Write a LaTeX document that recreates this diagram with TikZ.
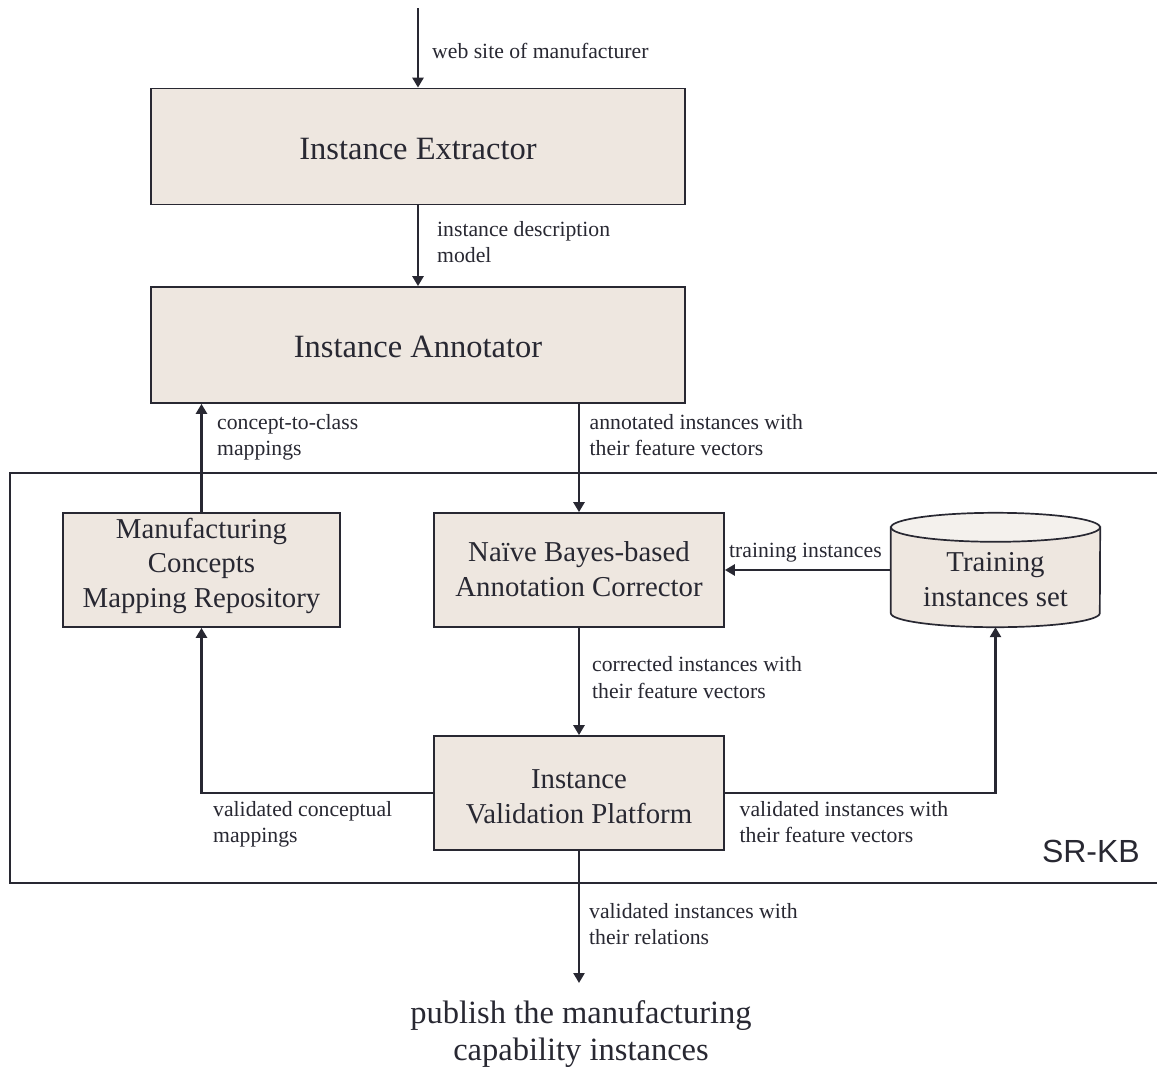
\documentclass[tikz,border=0pt]{standalone}
\usepackage{fontspec}
\setmainfont{Liberation Serif}
\newfontfamily\kbfont{Liberation Sans}
\usetikzlibrary{arrows.meta,backgrounds}
\definecolor{inkc}{RGB}{40,40,50}
\definecolor{boxfill}{RGB}{238,231,224}
\definecolor{capfill}{RGB}{244,241,237}
\newcommand\fsz[2]{\fontsize{#1}{#2}\selectfont}
% struts with extra room above (#1) or below (#1) to set the text's vertical place in a box
\newcommand\topstrut[1]{\rule[-.3\baselineskip]{0pt}{\dimexpr\baselineskip+#1\relax}}
\newcommand\botstrut[1]{\rule[\dimexpr-.3\baselineskip-#1\relax]{0pt}{\dimexpr\baselineskip+#1\relax}}

\begin{document}
\begin{tikzpicture}[x=1pt,y=-1pt,
  unit/.style={draw=inkc, line width=1.7pt, fill=boxfill, text=inkc, inner sep=0pt, align=center},
  bigunit/.style={unit, minimum width=534pt, minimum height=116pt, font=\fsz{32.5pt}{39pt}},
  unitbox/.style={unit, minimum width=290pt, minimum height=114pt, font=\fsz{28.8pt}{34.5pt}},
  flow/.style={draw=inkc, line width=2.8pt, -{Triangle[length=10pt,width=11pt]}},
  lbl/.style={anchor=north west, inner sep=0pt, align=left, text=inkc, font=\fsz{21.7pt}{26.5pt}},
]
\useasboundingbox (0,0) rectangle (1157,1068);
\clip (0,0) rectangle (1157,1068);

% knowledge base frame (open to the right)
\draw[inkc, line width=2.4pt] (1175,473) -- (10,473) -- (10,883) -- (1175,883);
\node[anchor=base east, inner sep=0pt, text=inkc, font=\kbfont\fsz{32pt}{38pt}] (kb) at (1140,862) {SR-KB};

% processing units
\node[bigunit] (ie) at (418,146.5) {\topstrut{10pt}Instance Extractor};
\node[bigunit] (ia) at (418,345) {\topstrut{10pt}Instance Annotator};
\node[unitbox, minimum width=277pt] (mc) at (201.5,570) {\strut Manufacturing\\\strut Concepts\\\botstrut{8pt}Mapping Repository};
\node[unitbox] (nb) at (579,570) {\topstrut{4pt}Naïve Bayes-based\\\strut Annotation Corrector};
\node[unitbox] (ivp) at (579,793) {\topstrut{12pt}Instance\\\strut Validation Platform};

% training data store
\node[inner sep=0pt, minimum width=209pt, minimum height=94pt, align=center, text=inkc,
      font=\fsz{28.8pt}{34.5pt}] (tis) at (995.5,580) {\topstrut{4pt}Training\\\strut instances set};
\begin{pgfonlayer}{background}
  \fill[white] (0,0) rectangle (1157,1068);
  \draw[draw=inkc, line width=1.7pt, fill=boxfill]
    ([yshift=5.5pt]tis.north west) -- ([yshift=14pt]tis.south west)
    arc[start angle=180, end angle=360, x radius=104.5pt, y radius=14pt]
    -- ([yshift=5.5pt]tis.north east) -- cycle;
  \draw[draw=inkc, line width=1.7pt, fill=capfill]
    ([yshift=5.5pt]tis.north) ellipse[x radius=104.5pt, y radius=14.5pt];
\end{pgfonlayer}

% output
\node[anchor=north, inner sep=0pt, align=center, text=inkc, font=\fsz{32.5pt}{37pt}] (pub)
  at (581,997) {\strut publish the manufacturing\\\strut capability instances};

% connectors
\coordinate (src) at (418,8);
\draw[flow] (src) -- (ie.north);
\draw[flow] (ie.south) -- (ia.north);
\draw[flow] (mc.north) -- (mc.north |- ia.south);
\draw[flow] (ia.south -| nb.north) -- (nb.north);
\draw[flow] (nb.east -| tis.west) -- (nb.east);
\draw[flow] (nb.south) -- (ivp.north);
\draw[flow] (ivp.west) -| (mc.south);
\draw[flow] (ivp.east) -| (tis.south);
\draw[flow, shorten >=14pt] (ivp.south) -- (ivp.south |- pub.north);

% connector labels
\node[lbl] (l1) at (432,40) {\strut web site of manufacturer};
\node[lbl] (l2) at (437,217.5) {\strut instance description\\\strut model};
\node[lbl] (l3) at (217,410.5) {\strut concept-to-class\\\strut mappings};
\node[lbl] (l4) at (589.5,410.5) {\strut annotated instances with\\\strut their feature vectors};
\node[lbl] (l5) at (729,538.5) {\strut training instances};
\node[lbl] (l6) at (592,653) {\strut corrected instances with\\\strut their feature vectors};
\node[lbl] (l7) at (213,797.5) {\strut validated conceptual\\\strut mappings};
\node[lbl] (l8) at (739.5,797.5) {\strut validated instances with\\\strut their feature vectors};
\node[lbl] (l9) at (589,899.5) {\strut validated instances with\\\strut their relations};
\end{tikzpicture}
\end{document}
